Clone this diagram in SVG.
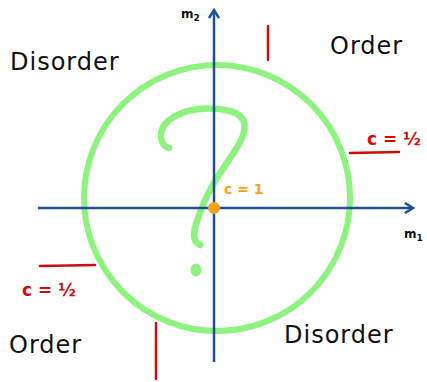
<svg xmlns="http://www.w3.org/2000/svg" width="427" height="382" viewBox="0 0 427 382">
<style>
.lbl{font-family:"DejaVu Sans","Liberation Sans",sans-serif;font-size:24px;fill:#111;letter-spacing:1px}
.red{stroke:#d10a0a;stroke-width:2.5;fill:none;stroke-linecap:round}
.redt{font-family:"DejaVu Sans",sans-serif;font-size:17px;font-weight:bold;fill:#d10a0a}
.axis{stroke:#1c4f9c;stroke-width:2.5;fill:none}
</style>
<defs>
<marker id="ah" viewBox="0 0 12 12" refX="10" refY="6" markerWidth="12" markerHeight="12" markerUnits="userSpaceOnUse" orient="auto">
<path d="M2,1 L10,6 L2,11" fill="none" stroke="#1c4f9c" stroke-width="2.5"/>
</marker>
</defs>
<rect width="427" height="382" fill="#fff"/>
<g id="circle">
<circle cx="217" cy="198" r="133" fill="none" stroke="#8ef27f" stroke-width="6"/>
<path d="M169,148 C160,146 157,131 168,121 C183,108 210,106 230,111 C249,116 247,131 238,146 C226,165 210,185 201,210 C194,228 190,240 200,245" fill="none" stroke="#8ef27f" stroke-width="6.5" stroke-linecap="round"/>
<ellipse cx="196" cy="270" rx="5.5" ry="6.5" fill="#8ef27f"/>
</g>
<g id="connectors">
<line class="axis" x1="38" y1="208" x2="413" y2="208" marker-end="url(#ah)"/>
<line class="axis" x1="214" y1="362" x2="214" y2="10" marker-end="url(#ah)"/>
</g>
<g id="origin">
<circle cx="214" cy="208" r="6" fill="#f6a01f"/>
<text x="224" y="194" font-family="DejaVu Sans,sans-serif" font-size="14" font-weight="bold" fill="#f6a01f">c = 1</text>
</g>
<g id="axis-labels">
<text x="181" y="18" font-family="DejaVu Sans,sans-serif" font-size="12" font-weight="bold" fill="#111">m<tspan font-size="9" dy="3">2</tspan></text>
<text x="404" y="238" font-family="DejaVu Sans,sans-serif" font-size="12" font-weight="bold" fill="#111">m<tspan font-size="9" dy="3">1</tspan></text>
</g>
<g id="red-lines">
<line class="red" x1="268" y1="26" x2="268" y2="60"/>
<line class="red" x1="350" y1="153" x2="399" y2="152"/>
<line class="red" x1="40" y1="266" x2="95" y2="265"/>
<line class="red" x1="156" y1="323" x2="156" y2="379"/>
<text class="redt" x="367" y="145">c = ½</text>
<text class="redt" x="22" y="296">c = ½</text>
</g>
<g id="regions">
<text class="lbl" x="10" y="70">Disorder</text>
<text class="lbl" x="330" y="54">Order</text>
<text class="lbl" x="9" y="353">Order</text>
<text class="lbl" x="284" y="343">Disorder</text>
</g>
</svg>
